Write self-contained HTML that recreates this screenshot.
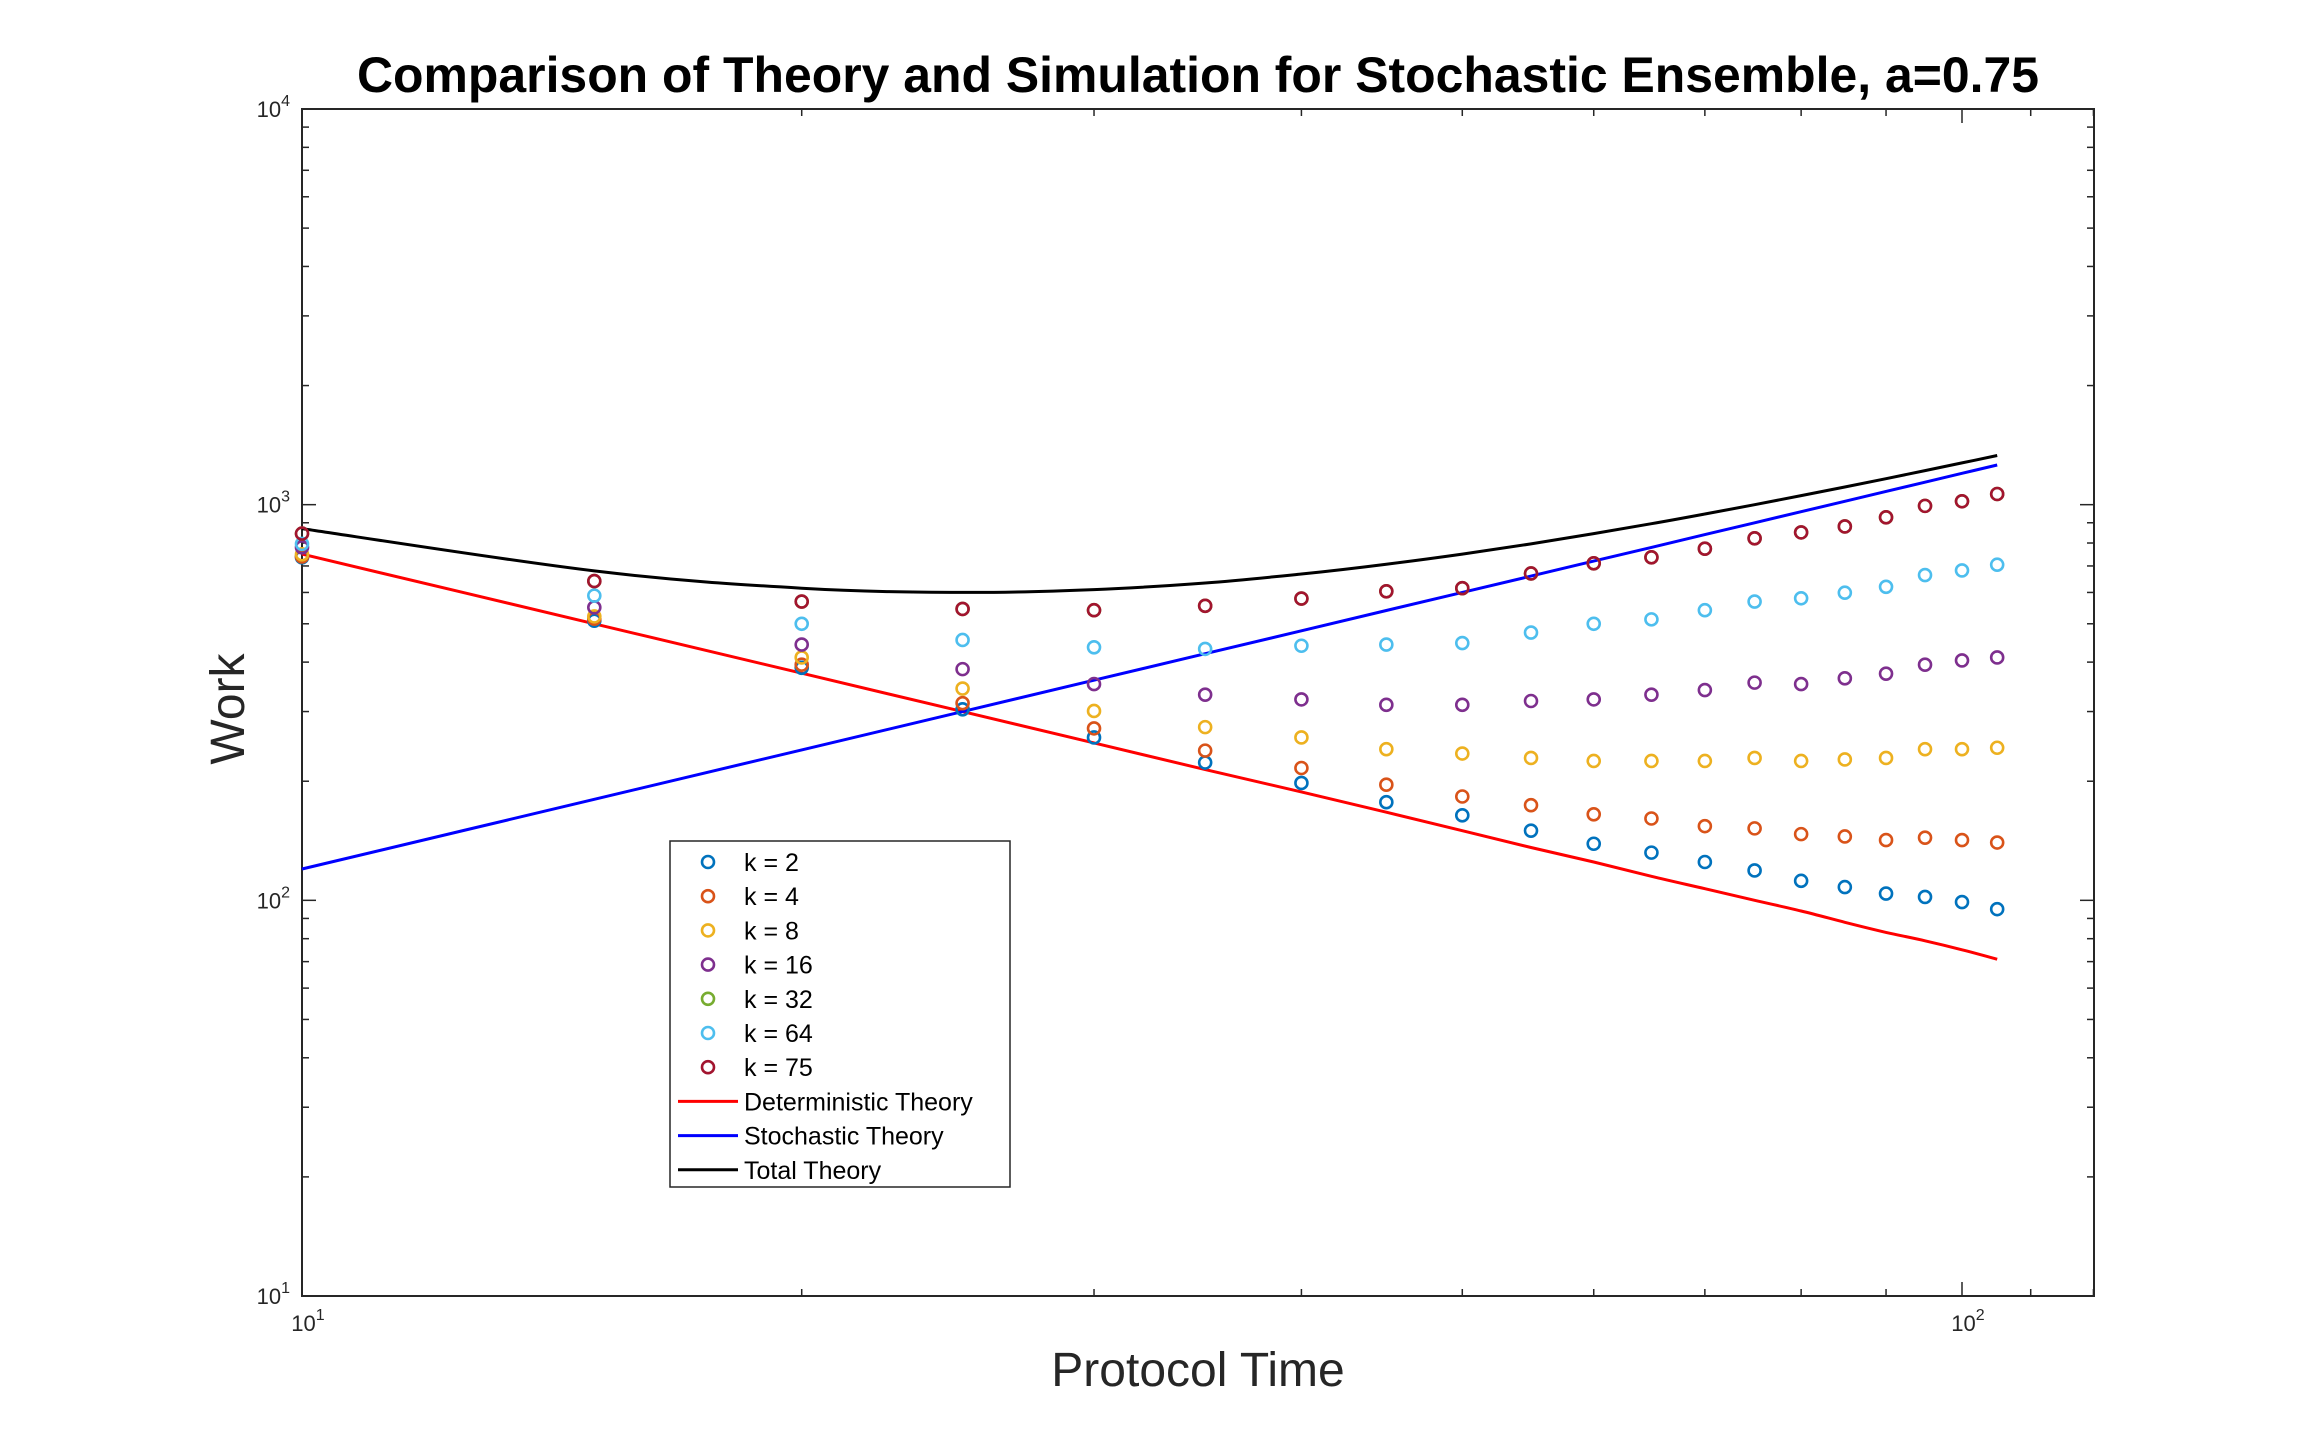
<!DOCTYPE html>
<html><head><meta charset="utf-8"><style>
html,body{margin:0;padding:0;background:#fff;}
svg{display:block;font-family:"Liberation Sans",Arial,sans-serif;}
</style></head><body>
<svg id="chart" width="2314" height="1456" viewBox="0 0 2314 1456" xmlns="http://www.w3.org/2000/svg">
<rect width="2314" height="1456" fill="#fff"/>
<text x="1198" y="92" text-anchor="middle" font-size="50" font-weight="bold" textLength="1682" lengthAdjust="spacingAndGlyphs">Comparison of Theory and Simulation for Stochastic Ensemble, a=0.75</text>
<text x="0" y="0" transform="translate(244,709) rotate(-90)" text-anchor="middle" font-size="48" fill="#262626">Work</text>
<text x="1198" y="1386" text-anchor="middle" font-size="48" fill="#262626">Protocol Time</text>
<g id="grid"></g>
<g id="lines"></g>
<g id="marks"></g>
<g id="legend"></g>
</svg>
<script>
const times = [10,15,20,25,30,35,40,45,50,55,60,65,70,75,80,85,90,95,100,105];
const k2  = [736,509,387,304,258,223,198,177,164,150,139,132,125,119,112,108,104,102,99,95];
const k4  = [740,515,394,315,272,239,216,196,183,174,165,161,154,152,147,145,142,144,142,140];
const k8  = [749,522,411,343,301,274,258,241,235,229,225,225,225,229,225,227,229,241,241,243];
const k16 = [780,550,443,384,352,331,322,312,312,319,322,331,340,355,352,364,374,394,404,411];
const k32 = [845,641,569,545,541,555,579,604,615,670,711,736,774,822,851,881,929,993,1020,1064];
const k64 = [796,589,500,455,436,432,440,443,447,475,500,513,541,569,580,599,620,664,682,705];
const k75 = [845,641,569,545,541,555,579,604,615,670,711,736,774,822,851,881,929,993,1020,1064];
const detTheory   = [750,500,375,300,250,214,188,167,150,136,125,115,107,100,94,88,83,79,75,71];
const stochTheory = [120,180,240,300,360,420,480,540,600,660,720,780,840,900,960,1020,1080,1140,1200,1260];
const totalTheory = [870,680,615,600,610,634,668,707,750,796,845,895,947,1000,1054,1108,1163,1219,1275,1331];
const xTickLabels = ["10","10"];
const xTickExps = ["1","2"];
const yTickExps = ["1","2","3","4"];

const NS = "http://www.w3.org/2000/svg";
const L=302,R=2094,T=109,B=1296;
function xs(t){return L + 1660*Math.log10(t/10);}
function ys(v){return T + (B-T)/3*(4-Math.log10(v));}
function mk(tag,attrs,parent){const e=document.createElementNS(NS,tag);for(const k in attrs)e.setAttribute(k,attrs[k]);parent.appendChild(e);return e;}

const grid=document.getElementById('grid');
for(let d=1;d<=3;d++){for(let m=1;m<=9;m++){
  const v=m*Math.pow(10,d); const y=ys(v); const len=(m===1)?14:7;
  if(m===1 && d===1) continue;
  const t1=mk('line',{x1:L,x2:L+len,y1:y,y2:y,stroke:'#262626','stroke-width':1.5},grid);
  
  
  const t2=mk('line',{x1:R,x2:R-len,y1:y,y2:y,stroke:'#262626','stroke-width':1.5},grid);
  
  
}}
for(let m=2;m<=12;m++){
  const t=m*10; if(t>120)break; const x=xs(t); const len=(m===10)?14:7;
  const a=mk('line',{x1:x,x2:x,y1:B,y2:B-len,stroke:'#262626','stroke-width':1.5},grid);
  
  
  const b=mk('line',{x1:x,x2:x,y1:T,y2:T+len,stroke:'#262626','stroke-width':1.5},grid);
  
  
}
const box=mk('rect',{x:L,y:T,width:R-L,height:B-T,fill:'none',stroke:'#262626','stroke-width':2},grid);


yTickExps.forEach((e,i)=>{
  const y=ys(Math.pow(10,+e));
  const tx=mk('text',{x:L-12,y:y+8,'text-anchor':'end','font-size':22,fill:'#262626'},grid);
  
  
  tx.innerHTML='10<tspan dy="-11" font-size="16">'+e+'</tspan>';
});
xTickExps.forEach((e,i)=>{
  const x=xs(Math.pow(10,+e));
  const tx=mk('text',{x:x+6,y:1331,'text-anchor':'middle','font-size':22,fill:'#262626'},grid);
  
  
  tx.innerHTML=xTickLabels[i]+'<tspan dy="-11" font-size="16">'+e+'</tspan>';
});

const lines=document.getElementById('lines');
function smoothPath(vals){
  const P=times.map((t,i)=>[xs(t),ys(vals[i])]);
  let d='M'+P[0][0].toFixed(1)+','+P[0][1].toFixed(1);
  for(let i=0;i<P.length-1;i++){
    const p0=P[Math.max(i-1,0)],p1=P[i],p2=P[i+1],p3=P[Math.min(i+2,P.length-1)];
    const c1=[p1[0]+(p2[0]-p0[0])/6,p1[1]+(p2[1]-p0[1])/6];
    const c2=[p2[0]-(p3[0]-p1[0])/6,p2[1]-(p3[1]-p1[1])/6];
    d+=' C'+c1[0].toFixed(1)+','+c1[1].toFixed(1)+' '+c2[0].toFixed(1)+','+c2[1].toFixed(1)+' '+p2[0].toFixed(1)+','+p2[1].toFixed(1);
  }
  return d;
}
function poly(vals,color,name){
  const p=mk('path',{d:smoothPath(vals),fill:'none',stroke:color,'stroke-width':3},lines);
  
  
}
poly(detTheory,'#FF0000','deterministic-theory-line');
poly(stochTheory,'#0000FF','stochastic-theory-line');
poly(totalTheory,'#000000','total-theory-line');

const marks=document.getElementById('marks');
const series=[[k2,'#0072BD','k-2'],[k4,'#D95319','k-4'],[k8,'#EDB120','k-8'],[k16,'#7E2F8E','k-16'],[k32,'#77AC30','k-32'],[k64,'#4DBEEE','k-64'],[k75,'#A2142F','k-75']];
series.forEach(s=>{
  s[0].forEach((v,i)=>{
    const c=mk('circle',{cx:xs(times[i]),cy:ys(v),r:6,fill:'none',stroke:s[1],'stroke-width':2.6},marks);
    
    
  });
});

const lg=document.getElementById('legend');
const lb=mk('rect',{x:670,y:841,width:340,height:346,fill:'#fff',stroke:'#262626','stroke-width':1.5},lg);


const entries=[['k = 2','#0072BD','m'],['k = 4','#D95319','m'],['k = 8','#EDB120','m'],['k = 16','#7E2F8E','m'],['k = 32','#77AC30','m'],['k = 64','#4DBEEE','m'],['k = 75','#A2142F','m'],['Deterministic Theory','#FF0000','l'],['Stochastic Theory','#0000FF','l'],['Total Theory','#000000','l']];
entries.forEach((e,i)=>{
  const y=862+i*34.2;
  if(e[2]==='m'){
    const c=mk('circle',{cx:708,cy:y,r:6,fill:'none',stroke:e[1],'stroke-width':2.6},lg);
    
    
  } else {
    const l=mk('line',{x1:678,x2:738,y1:y,y2:y,stroke:e[1],'stroke-width':3},lg);
    
    
  }
  const tx=mk('text',{x:744,y:y+9,'font-size':25,fill:'#000'},lg);
  
  
  tx.textContent=e[0];
});
</script>
</body></html>
